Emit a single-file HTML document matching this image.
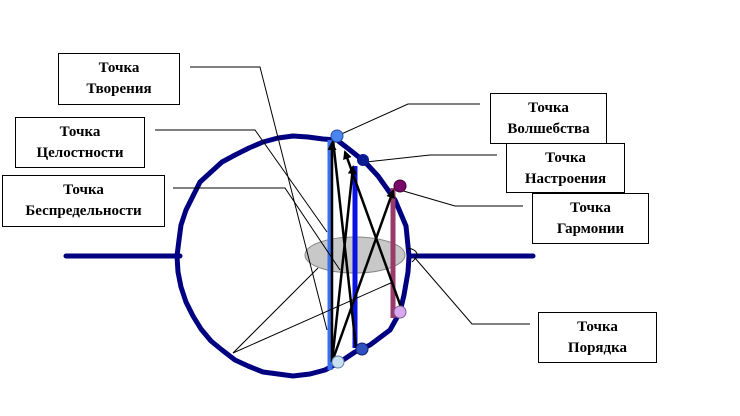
<!DOCTYPE html>
<html><head><meta charset="utf-8"><style>
html,body{margin:0;padding:0;background:#fff;width:740px;height:416px;overflow:hidden}
.b{position:absolute;border:1px solid #000;background:#fff;font-family:"Liberation Serif",serif;font-weight:bold;font-size:15px;line-height:21px;text-align:center;box-sizing:border-box;padding-top:4px}
</style></head><body>
<svg width="740" height="416" style="position:absolute;left:0;top:0">
<defs><marker id="a" markerWidth="9" markerHeight="9" refX="7" refY="4.5" orient="auto" markerUnits="userSpaceOnUse"><path d="M0,0 L9,4.5 L0,9 z" fill="#000"/></marker></defs>
<g stroke="#000080" stroke-width="5" fill="none" stroke-linecap="round" stroke-linejoin="round">
<line x1="66" y1="256" x2="180" y2="256"/>
<line x1="410" y1="256" x2="533" y2="256"/>
<polygon points="409,256 406,226 395,200 378,176 365,162 350,150 337,140 323,139 308,137 293,136 278,138 263,142 249,148 235,155 222,162 211,172 200,182 193,196 186,210 181,225 179,240 177,256 178,272 181,287 186,302 193,316 201,329 211,341 222,350 235,360 248,366 263,372 278,374 293,376 310,374 325,370 340,362 355,352 370,345 390,330 400,312 404,295 408,272"/>
</g>
<ellipse cx="355" cy="255" rx="50" ry="18" fill="#c8c8c8" stroke="#888" stroke-width="1"/>
<line x1="330" y1="140" x2="330" y2="370" stroke="#3a6ff0" stroke-width="5"/>
<line x1="355" y1="166" x2="355" y2="348" stroke="#0a12e0" stroke-width="5"/>
<line x1="393" y1="188" x2="393" y2="318" stroke="#9a3a6a" stroke-width="5"/>
<g stroke="#000" stroke-width="1" fill="none">
<polyline points="190,67 260,67 327,330"/>
<polyline points="155,130 255,130 327,232"/>
<polyline points="173,188 285,188 340,270"/>
<line x1="233" y1="353" x2="318" y2="268"/>
<line x1="233" y1="353" x2="393" y2="282"/>
<polyline points="337,136 408,104 480,104"/>
<polyline points="366,162 430,155 497,155"/>
<polyline points="400,190 455,206 523,206"/>
<path d="M408,248 C418,250 420,255 412,262"/>
<polyline points="415,258 472,324 530,324"/>
</g>
<g stroke="#000" stroke-width="2.5" fill="none">
<line x1="332" y1="362" x2="332" y2="143" marker-end="url(#a)"/>
<line x1="333" y1="140" x2="356" y2="348"/>
<line x1="332" y1="362" x2="353" y2="167" marker-end="url(#a)"/>
<line x1="332" y1="362" x2="393" y2="191" marker-end="url(#a)"/>
<line x1="402" y1="310" x2="345" y2="152" marker-end="url(#a)"/>
</g>
<circle cx="337" cy="136" r="6" fill="#4a86f0" stroke="#2a4aa0"/>
<circle cx="363" cy="160" r="6" fill="#0a1a90"/>
<circle cx="400" cy="186" r="6" fill="#7a0a6a" stroke="#40003a"/>
<circle cx="400" cy="312" r="6" fill="#d8a8f0" stroke="#806090"/>
<circle cx="338" cy="362" r="6" fill="#c8e0f0" stroke="#6080a0"/>
<circle cx="362" cy="349" r="6" fill="#3050c0" stroke="#102070"/>
</svg>
<div class="b" style="left:58px;top:53px;width:122px;height:52px">Точка<br>Творения</div>
<div class="b" style="left:15px;top:117px;width:130px;height:51px">Точка<br>Целостности</div>
<div class="b" style="left:2px;top:175px;width:163px;height:52px">Точка<br>Беспредельности</div>
<div class="b" style="left:490px;top:93px;width:117px;height:51px">Точка<br>Волшебства</div>
<div class="b" style="left:506px;top:143px;width:119px;height:50px">Точка<br>Настроения</div>
<div class="b" style="left:532px;top:193px;width:117px;height:51px">Точка<br>Гармонии</div>
<div class="b" style="left:538px;top:312px;width:119px;height:51px">Точка<br>Порядка</div>
</body></html>
